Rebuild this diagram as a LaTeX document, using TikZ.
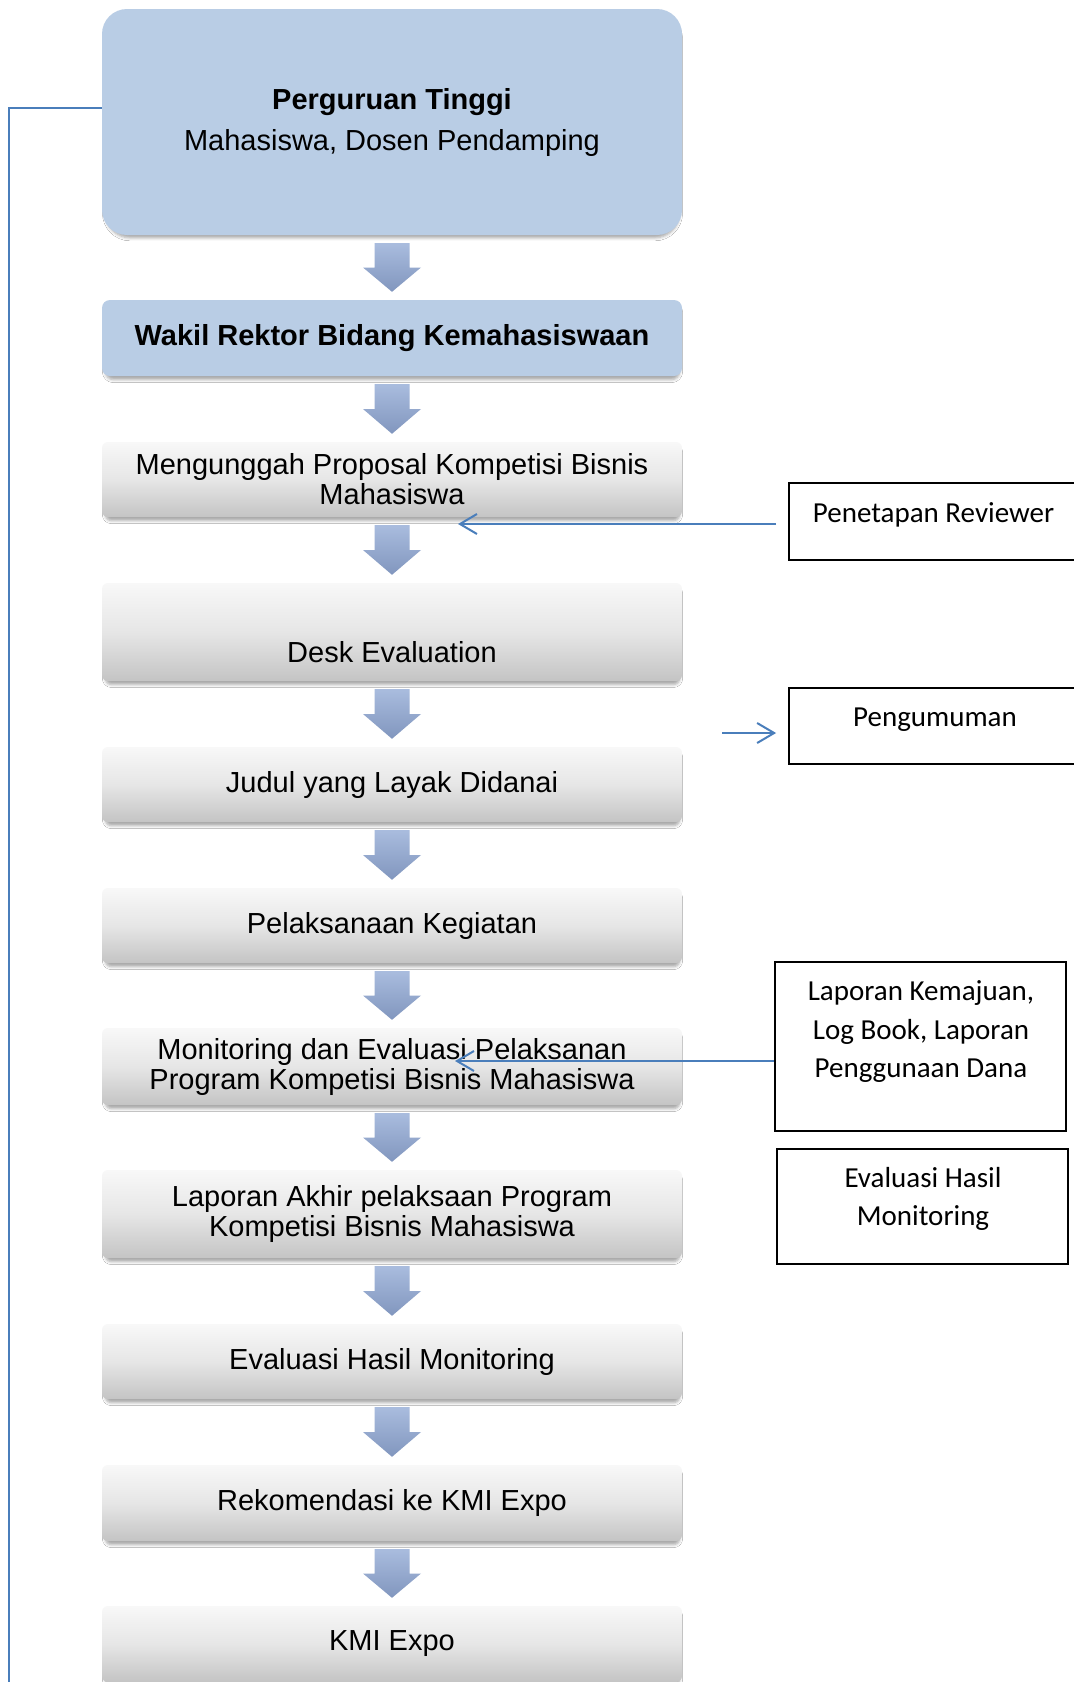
\documentclass[tikz,border=0pt]{standalone}
\usepackage{fontspec}
\setmainfont{Liberation Sans}
\newfontfamily\calib{Carlito}
\usetikzlibrary{calc,arrows.meta,shadows.blur}
\definecolor{boxblue}{HTML}{B9CDE5}
\definecolor{arrtop}{HTML}{A9BCDE}
\definecolor{arrbot}{HTML}{8196BE}
\definecolor{gtop}{HTML}{F8F8F8}
\definecolor{gmid}{HTML}{E6E6E6}
\definecolor{gbot}{HTML}{C4C4C4}
\definecolor{lineblue}{HTML}{4A7EBB}
\tikzset{
  softshadow/.style={blur shadow={shadow xshift=0.5pt, shadow yshift=-4pt, shadow scale=0.99,
    shadow blur radius=3pt, shadow opacity=35}},
  mainfont/.style={font=\fontsize{29}{30}\selectfont},
  bluebox/.style={rectangle, fill=boxblue, minimum width=580pt, rounded corners=8pt,
    inner sep=0pt, align=center, softshadow, mainfont},
  graybox/.style={rectangle, top color=gtop, bottom color=gbot, middle color=gmid,
    minimum width=580pt, rounded corners=6pt, inner sep=0pt, align=center, softshadow, mainfont},
  sidebox/.style={rectangle, draw=black, line width=1.8pt, fill=white, inner sep=0pt},
  sidetext/.style={font=\calib\fontsize{29}{38.5}\selectfont, align=center, inner sep=0pt},
  link/.style={draw=lineblue, line width=2pt},
  linkarrow/.style={link, -{Straight Barb[length=17pt,width=20pt,line width=2pt]}},
}
\newcommand\blockarr[2]{%
  \shade[top color=arrtop, bottom color=arrbot]
    let \p1=(#1.south), \p2=(#2.north) in
    (\x1-17.5pt,\y1-8pt) -- (\x1+17.5pt,\y1-8pt) -- (\x1+17.5pt,{(\y1+\y2)/2}) --
    (\x1+29pt,{(\y1+\y2)/2}) -- (\x1,\y2+8pt) -- (\x1-29pt,{(\y1+\y2)/2}) --
    (\x1-17.5pt,{(\y1+\y2)/2}) -- cycle;}
\begin{document}
\begin{tikzpicture}[x=1pt,y=-1pt]
\useasboundingbox (0,0) rectangle (1074,1682);
\clip (0,0) rectangle (1074,1682);
\fill[white] (0,0) rectangle (1074,1682);

% main column
\node[bluebox, rounded corners=25pt, minimum height=226pt, font=\fontsize{29}{41}\selectfont]
  (b1) at (392,122) {\textbf{Perguruan Tinggi}\\Mahasiswa, Dosen Pendamping};
\node[bluebox, minimum height=76pt] (b2) at (392,338) {\textbf{Wakil Rektor Bidang Kemahasiswaan}};
\node[graybox, minimum height=75pt] (b3) at (392,479.5) {Mengunggah Proposal Kompetisi Bisnis\\Mahasiswa};
\node[graybox, minimum height=98pt] (b4) at (392,632) {};
\node[mainfont, inner sep=0pt] (t4) at (392,652) {Desk Evaluation};
\node[graybox, minimum height=75pt] (b5) at (392,784.5) {Judul yang Layak Didanai};
\node[graybox, minimum height=75pt] (b6) at (392,925.5) {Pelaksanaan Kegiatan};
\node[graybox, minimum height=77pt] (b7) at (392,1066.5) {Monitoring dan Evaluasi Pelaksanan\\Program Kompetisi Bisnis Mahasiswa};
\node[graybox, minimum height=88pt] (b8) at (392,1214) {Laporan Akhir pelaksaan Program\\Kompetisi Bisnis Mahasiswa};
\node[graybox, minimum height=75pt] (b9) at (392,1361.5) {Evaluasi Hasil Monitoring};
\node[graybox, minimum height=76pt] (b10) at (392,1503) {Rekomendasi ke KMI Expo};
\node[graybox, minimum height=76pt] (b11) at (392,1644) {KMI Expo};

% block arrows
\blockarr{b1}{b2}
\blockarr{b2}{b3}
\blockarr{b3}{b4}
\blockarr{b4}{b5}
\blockarr{b5}{b6}
\blockarr{b6}{b7}
\blockarr{b7}{b8}
\blockarr{b8}{b9}
\blockarr{b9}{b10}
\blockarr{b10}{b11}

% side boxes
\node[sidebox, minimum width=320pt, minimum height=77pt] (pen) at (949,521.5) {};
\node[sidetext, anchor=base] (penT) at (933.5,522) {Penetapan Reviewer};
\node[sidebox, minimum width=320pt, minimum height=76pt] (peng) at (949,726) {};
\node[sidetext, anchor=base] (pengT) at (935,726) {Pengumuman};
\node[sidebox, minimum width=291pt, minimum height=169pt] (lap) at (920.5,1046.5) {};
\node[sidetext] (lapT) at (921,1032) {Laporan Kemajuan,\\Log Book, Laporan\\Penggunaan Dana};
\node[sidebox, minimum width=291pt, minimum height=115pt] (evh) at (922.5,1206.5) {};
\node[sidetext] (evhT) at (923,1199) {Evaluasi Hasil\\Monitoring};

% connectors
\coordinate (leftEnd) at (9,1700);
\coordinate (penTip) at (458,524);
\coordinate (pengStart) at (722,733);
\coordinate (lapTip) at (455,1061);
\draw[link] ($(b1.west)+(0pt,14pt)$) -| (leftEnd);
\draw[linkarrow] ($(pen.west)+(-12pt,-2.5pt)$) -- (penTip);
\draw[linkarrow] (pengStart) -- ($(peng.west)+(-12pt,-7pt)$);
\draw[linkarrow] ($(lap.west)+(0pt,-14.5pt)$) -- (lapTip);
\end{tikzpicture}
\end{document}
